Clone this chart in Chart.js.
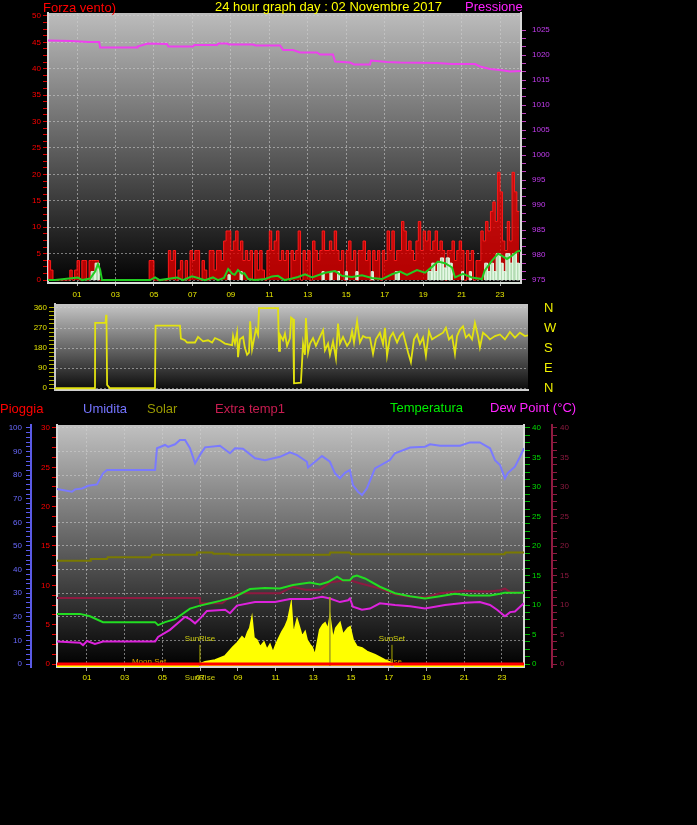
<!DOCTYPE html>
<html>
<head>
<meta charset="utf-8">
<title>24 hour graph</title>
<script src="https://cdn.jsdelivr.net/npm/chart.js"></script>
<style>
  html, body { margin: 0; padding: 0; background: #000; }
  #wrap { position: relative; width: 697px; height: 825px; background: #000; overflow: hidden;
          font-family: "Liberation Sans", Arial, sans-serif; }
  canvas { position: absolute; left: 0; }
  .lbl { position: absolute; font-size: 13px; line-height: 13px; white-space: nowrap; }
</style>
</head>
<body>
<div id="wrap">
  <canvas id="windChart" width="697" height="300" style="top:0px"></canvas>
  <canvas id="dirChart" width="697" height="108" style="top:292px"></canvas>
  <canvas id="meteoChart" width="697" height="305" style="top:395px"></canvas>

  <div class="lbl" style="left:43px;top:1px;color:#ff0000">Forza vento)</div>
  <div class="lbl" style="left:215px;top:0px;color:#ffff00">24 hour graph day : 02 Novembre 2017</div>
  <div class="lbl" style="left:465px;top:0px;color:#ff22ff">Pressione</div>

  <div class="lbl" style="left:0px;top:402px;color:#ff0000">Pioggia</div>
  <div class="lbl" style="left:83px;top:402px;color:#7474ff">Umidita</div>
  <div class="lbl" style="left:147px;top:402px;color:#999900">Solar</div>
  <div class="lbl" style="left:215px;top:402px;color:#c81c50">Extra temp1</div>
  <div class="lbl" style="left:390px;top:401px;color:#00ee00">Temperatura</div>
  <div class="lbl" style="left:490px;top:401px;color:#ff22ff">Dew Point (°C)</div>
</div>

<script>
// ---------- axis ticks ----------
const hourTicks = [1, 3, 5, 7, 9, 11, 13, 15, 17, 19, 21, 23];
const hourLabels = ['01', '03', '05', '07', '09', '11', '13', '15', '17', '19', '21', '23'];
const windTicks = [0, 5, 10, 15, 20, 25, 30, 35, 40, 45, 50];
const pressureTicks = [975, 980, 985, 990, 995, 1000, 1005, 1010, 1015, 1020, 1025];
const dirTicks = [0, 90, 180, 270, 360];
const dirLetters = ['N', 'E', 'S', 'W', 'N'];
const humTicks = [0, 10, 20, 30, 40, 50, 60, 70, 80, 90, 100];
const rainTicks = [0, 5, 10, 15, 20, 25, 30];
const tempTicks = [0, 5, 10, 15, 20, 25, 30, 35, 40];

// ---------- top chart: wind speed (km/h) every 7.5 minutes ----------
const windStart = -0.5;
const windStep = 0.125;
const windSpeed = [
  0, 3.7, 1.9, 0,
  0, 0, 0, 0, 0, 0, 1.9, 0,
  1.9, 3.7, 0, 3.7, 3.7, 0, 3.7, 3.7,
  3.7, 3.7, 0, 0, 0, 0, 0, 0,
  0, 0, 0, 0, 0, 0, 0, 0,
  0, 0, 0, 0, 0, 0, 0, 3.7,
  3.7, 0, 0, 0, 0, 0, 0, 5.6,
  3.7, 5.6, 0, 1.9, 3.7, 0, 3.7, 0,
  5.6, 3.7, 5.6, 5.6, 0, 3.7, 1.9, 0,
  5.6, 5.6, 1.9, 5.6, 5.6, 3.7, 7.4, 9.3,
  9.3, 5.6, 7.4, 9.3, 5.6, 7.4, 3.7, 5.6,
  3.7, 5.6, 0, 5.6, 1.9, 5.6, 1.9, 0,
  5.6, 9.3, 5.6, 7.4, 9.3, 3.7, 5.6, 3.7,
  5.6, 0, 5.6, 3.7, 5.6, 9.3, 0, 5.6,
  3.7, 5.6, 0, 7.4, 5.6, 3.7, 5.6, 9.3,
  5.6, 5.6, 7.4, 5.6, 9.3, 5.6, 3.7, 5.6,
  0, 5.6, 7.4, 3.7, 5.6, 0, 5.6, 5.6,
  7.4, 3.7, 5.6, 0, 5.6, 3.7, 5.6, 0,
  5.6, 3.7, 9.3, 5.6, 9.3, 3.7, 5.6, 5.6,
  11.1, 9.3, 5.6, 7.4, 5.6, 3.7, 7.4, 11.1,
  5.6, 9.3, 7.4, 9.3, 5.6, 7.4, 9.3, 5.6,
  7.4, 5.6, 0, 5.6, 5.6, 7.4, 3.7, 5.6,
  7.4, 5.6, 0, 5.6, 3.7, 5.6, 0, 3.7,
  3.7, 9.3, 7.4, 11.1, 9.3, 13, 14.8, 11.1,
  20.4, 16.7, 7.4, 5.6, 11.1, 7.4, 20.4, 16.7,
  13
];

// average wind [hour, km/h]
const windAvg = [
  [-0.51, 0], [-0.14, 0], [1.05, 0.5], [1.26, 0], [1.68, 0.3], [1.94, 1.6], [2.09, 3.0], [2.2, 2.0],
  [2.3, 0], [4.8, 0], [5.06, 0.5], [5.3, 0], [6.2, 0.5], [6.5, 0], [6.98, 0.7], [7.29, 0.4],
  [7.65, 0], [8.07, 0.5], [8.33, 0], [8.64, 0.4], [8.86, 2.1], [9.07, 1.2], [9.2, 1.0], [9.37, 1.9],
  [9.58, 1.2], [9.7, 1.3], [9.9, 0.2], [10.26, 0], [10.78, 0.2], [11.14, 0.7], [11.45, 0.8], [11.8, 0],
  [12.18, 0.3], [12.49, 0.6], [12.86, 1.1], [13.22, 0.5], [13.9, 1.4], [14.42, 1.7], [14.78, 0.8],
  [15.3, 0.6], [15.82, 0.9], [16.34, 0.4], [16.86, 0.2], [17.38, 1.1], [17.8, 1.6], [18.16, 1.0],
  [18.68, 1.9], [19.1, 1.4], [19.46, 2.5], [19.77, 3.5], [20.14, 3.2], [20.5, 2.4], [20.66, 0.5],
  [21.07, 1.2], [21.54, 0.5], [22.06, 0.2], [22.2, 1.8], [22.58, 3.7], [22.9, 5.0], [23.1, 4.6],
  [23.36, 4.0], [23.62, 4.6], [23.88, 5.4], [24.09, 5.6]
];

// gust blocks [start hour, end hour, km/h]
const gustBlocks = [
  [1.73, 1.94, 1.6], [1.94, 2.14, 3.2], [8.85, 8.95, 1.0], [9.48, 9.58, 1.6],
  [13.74, 13.84, 1.6], [14.15, 14.25, 1.6], [14.55, 14.65, 1.6], [14.95, 15.05, 1.6],
  [15.5, 15.6, 1.6], [16.3, 16.4, 1.6], [17.55, 17.75, 1.6], [19.25, 19.45, 1.6],
  [19.45, 19.6, 3.2], [19.6, 19.75, 1.6], [19.75, 19.9, 3.2], [19.9, 20.05, 4.2],
  [20.05, 20.2, 2.3], [20.2, 20.35, 4.2], [20.35, 20.5, 3.2], [21.0, 21.1, 1.6],
  [21.4, 21.5, 1.6], [22.2, 22.35, 3.2], [22.35, 22.5, 1.6], [22.5, 22.65, 3.2],
  [22.65, 22.8, 1.6], [22.8, 23.0, 5.0], [23.0, 23.15, 3.2], [23.15, 23.3, 1.6],
  [23.3, 23.5, 5.0], [23.5, 23.65, 3.2], [23.65, 23.85, 5.0], [23.85, 24.0, 3.2]
];

// pressure [hour, hPa]
const pressure = [
  [-0.51, 1022.9], [0.7, 1022.8], [1.6, 1022.6], [2.15, 1022.6], [2.2, 1021.5], [4.12, 1021.5],
  [4.15, 1021.7], [4.69, 1022.3], [5.68, 1022.2], [5.75, 1021.7], [7.03, 1021.7], [7.1, 1022.0],
  [8.28, 1022.0], [8.35, 1022.3], [8.8, 1022.3], [8.9, 1022.1], [10.15, 1022.1], [10.3, 1021.9],
  [11.56, 1021.9], [11.72, 1021.0], [12.23, 1021.0], [12.6, 1020.5], [13.48, 1020.5], [13.64, 1020.1],
  [14.31, 1020.1], [14.42, 1018.7], [15.2, 1018.5], [15.4, 1018.1], [16.24, 1018.1], [16.29, 1018.9],
  [17.12, 1018.6], [17.8, 1018.5], [19.72, 1018.4], [20.5, 1018.2], [21.7, 1018.2], [21.96, 1017.7],
  [22.48, 1017.2], [23.0, 1017.0], [23.52, 1016.7], [24.09, 1016.8]
];

// ---------- middle chart: wind direction [hour, degrees] ----------
const direction = [
  [-0.51, 0], [1.57, 0], [1.58, 293], [2.12, 293], [2.15, 329], [2.17, 293], [2.2, 15], [2.35, 0],
  [4.69, 0], [4.72, 281], [5.99, 281], [6.04, 222], [6.25, 215], [6.36, 205], [6.77, 205], [6.93, 230],
  [7.19, 210], [7.45, 215], [7.66, 205], [7.81, 225], [8.07, 215], [8.33, 200], [8.7, 193], [8.75, 235],
  [8.85, 200], [8.96, 250], [9.01, 139], [9.11, 220], [9.27, 230], [9.37, 180], [9.48, 150], [9.58, 160],
  [9.64, 300], [9.74, 175], [9.84, 220], [9.94, 265], [10.05, 240], [10.1, 359], [11.09, 359], [11.14, 168],
  [11.19, 240], [11.35, 215], [11.45, 245], [11.56, 190], [11.71, 225], [11.77, 317], [11.87, 310],
  [11.92, 22], [12.28, 25], [12.39, 200], [12.49, 150], [12.54, 315], [12.65, 160], [12.75, 200],
  [12.91, 225], [13.06, 190], [13.27, 230], [13.43, 260], [13.53, 170], [13.69, 200], [13.79, 150],
  [13.95, 210], [14.1, 135], [14.21, 290], [14.31, 200], [14.47, 230], [14.68, 190], [14.83, 210],
  [14.94, 256], [15.04, 205], [15.2, 300], [15.35, 205], [15.51, 234], [15.66, 227], [15.87, 227],
  [16.03, 154], [16.18, 219], [16.39, 249], [16.55, 198], [16.65, 271], [16.76, 146], [16.91, 227],
  [17.07, 249], [17.28, 205], [17.43, 234], [17.59, 249], [17.74, 198], [17.85, 161], [18.0, 117],
  [18.16, 219], [18.32, 241], [18.47, 198], [18.63, 227], [18.78, 146], [18.94, 256], [19.1, 219],
  [19.25, 227], [19.51, 241], [19.67, 249], [19.82, 271], [19.98, 219], [20.14, 234], [20.29, 154],
  [20.4, 234], [20.55, 263], [20.71, 278], [20.86, 227], [21.02, 241], [21.18, 219], [21.33, 293],
  [21.49, 234], [21.59, 183], [21.75, 249], [21.96, 234], [22.11, 219], [22.37, 234], [22.63, 241],
  [22.89, 219], [23.15, 252], [23.41, 227], [23.67, 249], [23.93, 234], [24.09, 237]
];

// ---------- bottom chart ----------
const temperature = [
  [-0.59, 8.5], [0.63, 8.5], [1.16, 8.1], [1.85, 7.1], [4.61, 7.1], [4.77, 6.6], [5.14, 7.1], [5.67, 7.6],
  [6.46, 9.4], [6.99, 9.9], [7.52, 10.3], [8.05, 10.7], [8.85, 11.4], [9.64, 12.7], [10.44, 12.9],
  [11.23, 12.8], [11.92, 13.4], [12.82, 13.8], [13.35, 13.5], [13.78, 13.9], [14.26, 14.8], [14.57, 14.2],
  [14.94, 14.2], [15.1, 14.8], [15.31, 15.0], [15.74, 14.5], [16.53, 13.1], [17.33, 12.0], [18.13, 11.5],
  [18.92, 11.1], [19.72, 11.5], [20.51, 11.9], [21.3, 11.6], [22.37, 11.6], [22.9, 11.9], [23.16, 12.1],
  [24.17, 12.1]
];
const dewPoint = [
  [-0.59, 3.8], [0.63, 3.6], [0.79, 3.2], [1.0, 3.9], [1.42, 3.4], [1.85, 3.8], [4.61, 3.8], [4.77, 4.6],
  [5.4, 5.8], [6.2, 8.0], [6.46, 7.6], [6.73, 6.9], [6.99, 7.7], [7.36, 9.0], [8.32, 9.2], [8.58, 8.6],
  [8.95, 9.9], [9.91, 10.5], [10.97, 10.5], [11.76, 11.0], [12.82, 11.0], [13.46, 11.4], [13.88, 11.1],
  [14.41, 10.5], [14.84, 10.8], [14.94, 11.1], [15.1, 9.7], [15.58, 9.2], [16.0, 9.4], [16.53, 10.3],
  [17.33, 10.0], [18.13, 9.8], [18.92, 9.4], [19.98, 10.0], [21.04, 10.4], [21.83, 10.5], [22.37, 10.0],
  [22.74, 9.2], [23.16, 8.1], [23.43, 8.8], [23.69, 8.9], [23.96, 9.7], [24.17, 10.3]
];
const extraTemp = [
  [-0.59, 11.2], [6.99, 11.2], [7.0, 10.3], [8.16, 10.3], [8.48, 11.1], [8.95, 12.0], [11.23, 12.0],
  [11.92, 13.1], [12.56, 12.6], [13.35, 12.6], [13.88, 13.8], [14.68, 14.2], [14.94, 14.2], [15.47, 13.7],
  [16.53, 12.8], [17.33, 11.8], [18.13, 11.4], [18.92, 11.3], [19.72, 12.0], [21.04, 12.4], [21.83, 12.3],
  [22.37, 12.3], [22.9, 12.5], [23.16, 12.8], [23.43, 12.2], [24.17, 12.0]
];
const solarLevel = [
  [-0.59, 17.5], [1.16, 17.5], [1.2, 17.8], [2.06, 17.8], [2.1, 18.1], [4.4, 18.1], [4.45, 18.5],
  [6.8, 18.5], [6.83, 18.9], [7.66, 18.9], [7.7, 18.7], [8.56, 18.7], [8.6, 18.5], [13.86, 18.5],
  [13.9, 18.9], [14.94, 18.9], [15.0, 18.6], [23.14, 18.6], [23.18, 18.9], [24.17, 18.9]
];
const humidity = [
  [-0.59, 74.2], [0.2, 73.0], [0.37, 74.0], [0.74, 74.4], [1.06, 75.5], [1.53, 76.1], [1.85, 80.8],
  [2.06, 82.2], [4.61, 82.2], [4.71, 91.4], [5.14, 92.8], [5.3, 92.0], [5.67, 93.1], [5.93, 94.9],
  [6.2, 94.9], [6.46, 91.4], [6.73, 85.0], [6.99, 88.6], [7.26, 91.8], [8.05, 92.5], [8.58, 89.3],
  [8.85, 91.4], [9.27, 91.2], [9.91, 87.2], [10.44, 86.3], [11.23, 87.8], [11.76, 89.7], [12.14, 88.5],
  [12.66, 85.7], [12.72, 83.3], [13.09, 85.7], [13.46, 88.1], [13.88, 85.7], [14.15, 80.8], [14.41, 78.7],
  [14.68, 81.0], [14.94, 82.2], [15.1, 75.8], [15.37, 73.0], [15.58, 71.6], [15.84, 74.4], [16.27, 82.9],
  [17.06, 86.4], [17.33, 89.3], [18.13, 91.7], [18.92, 92.1], [19.19, 93.1], [19.72, 92.5], [20.78, 92.5],
  [21.3, 93.9], [21.83, 93.9], [22.37, 91.4], [22.63, 86.4], [22.9, 84.3], [23.16, 78.7], [23.32, 81.0],
  [23.69, 83.6], [23.96, 87.8], [24.17, 91.4]
];
const radiation = [
  [-0.59, 0], [6.9, 0], [6.99, 8], [7.26, 17], [7.79, 25], [8.32, 42], [8.74, 80], [9.0, 100], [9.22, 123],
  [9.38, 110], [9.53, 144], [9.64, 160], [9.74, 199], [9.84, 120], [10.0, 110], [10.18, 80], [10.38, 100],
  [10.54, 68], [10.7, 90], [10.86, 55], [11.02, 90], [11.13, 110], [11.34, 144], [11.5, 165], [11.66, 195],
  [11.82, 258], [11.92, 140], [12.03, 160], [12.14, 195], [12.3, 153], [12.4, 123], [12.56, 144],
  [12.66, 110], [12.82, 90], [12.93, 80], [13.09, 42], [13.25, 110], [13.35, 153], [13.51, 174],
  [13.62, 182], [13.78, 153], [13.88, 203], [14.04, 110], [14.2, 160], [14.41, 182], [14.57, 131],
  [14.68, 144], [14.84, 160], [14.94, 165], [15.1, 110], [15.31, 82], [15.58, 76], [15.84, 61],
  [16.27, 47], [16.8, 25], [17.17, 13], [17.33, 0], [24.17, 0]
];
const rain = [[-0.59, 0], [24.17, 0]];

const sunRise = 6.99;
const sunSet = 17.17;
const sunMarker = 90;
const solarPeak = [13.88, 292];
const moonSet = 4.29;
const moonRise = 16.75;

// ---------- helpers ----------
const FONT = '"Liberation Sans", Arial, sans-serif';
const GRID = 'rgba(210,210,210,0.55)';

function minorTicks(majors, sub, labels) {
  const out = [];
  majors.forEach((m, i) => {
    out.push({ value: m, lbl: labels ? labels[i] : String(m) });
    if (i < majors.length - 1) {
      const d = (majors[i + 1] - m) / sub;
      for (let k = 1; k < sub; k++) out.push({ value: m + d * k, lbl: '' });
    }
  });
  return out;
}
const pts = pairs => pairs.map(p => ({ x: p[0], y: p[1] }));
const setTicks = list => scale => { scale.ticks = list.map(t => ({ value: t.value, lbl: t.lbl })); };
const tickLabel = (v, i, t) => t[i].lbl;
const majorGrid = ctx => (ctx.tick && ctx.tick.lbl) ? GRID : 'rgba(0,0,0,0)';
const hourTickList = hourTicks.map((v, i) => ({ value: v, lbl: hourLabels[i] }));

const plotBackground = {
  id: 'plotBackground',
  beforeDraw(chart, args, opts) {
    const { ctx, chartArea: a } = chart;
    const g = ctx.createLinearGradient(0, a.top, 0, a.bottom);
    g.addColorStop(0, opts.top);
    g.addColorStop(1, opts.bottom);
    ctx.save();
    ctx.fillStyle = g;
    ctx.fillRect(a.left, a.top, a.right - a.left, a.bottom - a.top);
    ctx.restore();
  }
};

const baseOptions = {
  responsive: false,
  animation: false,
  events: [],
  elements: { point: { radius: 0 }, line: { tension: 0 } }
};

// ---------- top chart ----------
const windPoints = windSpeed.map((v, i) => ({ x: windStart + i * windStep, y: v }));
const gustPoints = [];
gustBlocks.forEach(([s, e, v]) => {
  gustPoints.push({ x: s, y: 0 }, { x: s, y: v }, { x: e, y: v }, { x: e, y: 0 }, { x: e, y: null });
});

new Chart(document.getElementById('windChart'), {
  type: 'line',
  data: {
    datasets: [
      { label: 'Pressione', data: pts(pressure), yAxisID: 'yP', borderColor: '#ee40ee', borderWidth: 2 },
      { label: 'Vento medio', data: pts(windAvg), yAxisID: 'y', borderColor: '#22cc22', borderWidth: 2 },
      { label: 'Raffica', data: gustPoints, yAxisID: 'y', borderColor: '#e4f8e4', borderWidth: 1,
        backgroundColor: '#b4dcb4', fill: 'origin', spanGaps: false },
      { label: 'Forza vento', data: windPoints, yAxisID: 'y', stepped: 'after', borderColor: '#ff1a1a',
        borderWidth: 1, backgroundColor: 'rgba(225,0,0,0.8)', fill: 'origin' }
    ]
  },
  options: {
    ...baseOptions,
    layout: { padding: { top: 13 } },
    plugins: { legend: { display: false }, tooltip: { enabled: false },
               plotBackground: { top: '#bcbcbc', bottom: '#020202' } },
    scales: {
      x: {
        type: 'linear', min: -0.51, max: 24.09,
        afterBuildTicks: setTicks(hourTickList),
        afterFit: s => { s.height = 17; },
        ticks: { autoSkip: false, maxRotation: 0, color: '#e8e800', font: { size: 8, family: FONT },
                 padding: 4, callback: tickLabel },
        grid: { color: GRID, tickColor: '#b0b0b0', tickLength: 3 },
        border: { color: '#d8e0d8', width: 2, dash: [2, 2] }
      },
      y: {
        position: 'left', min: -0.55, max: 50.55,
        afterBuildTicks: setTicks(minorTicks(windTicks, 4)),
        afterFit: s => { s.width = 48; },
        ticks: { autoSkip: false, color: '#ff0000', font: { size: 8, family: FONT }, padding: 2, callback: tickLabel },
        grid: { color: majorGrid, tickColor: '#dd0000', tickLength: 5 },
        border: { color: '#d8d8d8', width: 2, dash: [2, 2] }
      },
      yP: {
        position: 'right', min: 974.4, max: 1028.4,
        afterBuildTicks: setTicks(minorTicks(pressureTicks, 3)),
        afterFit: s => { s.width = 176; },
        ticks: { autoSkip: false, color: '#c43cf0', font: { size: 8, family: FONT }, padding: 6, callback: tickLabel },
        grid: { drawOnChartArea: false, tickColor: '#c040c0', tickLength: 5 },
        border: { color: '#d8d8d8', width: 2 }
      }
    }
  },
  plugins: [plotBackground]
});

// ---------- middle chart ----------
new Chart(document.getElementById('dirChart'), {
  type: 'line',
  data: {
    datasets: [
      { label: 'Direzione', data: pts(direction), yAxisID: 'y', borderColor: '#e2e210', borderWidth: 1.8 }
    ]
  },
  options: {
    ...baseOptions,
    layout: { padding: { top: 12 } },
    plugins: { legend: { display: false }, tooltip: { enabled: false },
               plotBackground: { top: '#c6c6c6', bottom: '#0a0a0a' } },
    scales: {
      x: {
        type: 'linear', min: -0.51, max: 24.09,
        afterFit: s => { s.height = 8; },
        ticks: { display: false },
        grid: { display: false },
        border: { color: '#d0d0d0', width: 2 }
      },
      y: {
        position: 'left', min: -8.8, max: 377.6,
        afterBuildTicks: setTicks(minorTicks(dirTicks, 5)),
        afterFit: s => { s.width = 55; },
        ticks: { autoSkip: false, color: '#e0e000', font: { size: 8, family: FONT }, padding: 2, callback: tickLabel },
        grid: { color: majorGrid, tickColor: '#b0b000', tickLength: 6 },
        border: { color: '#c8c8c8', width: 2, dash: [2, 2] }
      },
      yN: {
        position: 'right', min: -8.8, max: 377.6,
        afterBuildTicks: setTicks(minorTicks(dirTicks, 1, dirLetters)),
        afterFit: s => { s.width = 169; },
        ticks: { autoSkip: false, color: '#f0f000', font: { size: 13, family: FONT }, padding: 2, callback: tickLabel },
        grid: { drawOnChartArea: false, tickColor: 'rgba(0,0,0,0)', tickLength: 14 },
        border: { display: false }
      }
    }
  },
  plugins: [plotBackground]
});

// ---------- bottom chart ----------
const sunMoonText = {
  id: 'sunMoonText',
  beforeDatasetsDraw(chart) {
    const { ctx, scales: { x, yR } } = chart;
    const y0 = yR.getPixelForValue(0) - 2;
    ctx.save();
    ctx.font = '8px ' + FONT;
    ctx.fillStyle = '#dca400';
    ctx.textAlign = 'center';
    ctx.textBaseline = 'middle';
    ctx.fillText('Moon Set', x.getPixelForValue(moonSet), y0);
    ctx.fillText('MoonRise', x.getPixelForValue(moonRise), y0);
    ctx.restore();
  },
  afterDatasetsDraw(chart) {
    const { ctx, scales: { x, yS }, chartArea } = chart;
    const yTop = yS.getPixelForValue(sunMarker) - 6;
    ctx.save();
    ctx.font = '8px ' + FONT;
    ctx.fillStyle = '#cccc10';
    ctx.textAlign = 'center';
    ctx.textBaseline = 'middle';
    ctx.fillText('SunRise', x.getPixelForValue(sunRise), yTop);
    ctx.fillText('SunSet', x.getPixelForValue(sunSet), yTop);
    ctx.fillText('SunRise', x.getPixelForValue(sunRise), chartArea.bottom + 11);
    ctx.restore();
  }
};

new Chart(document.getElementById('meteoChart'), {
  type: 'line',
  data: {
    datasets: [
      { label: 'Pioggia', data: pts(rain), yAxisID: 'yR', borderColor: '#ff0000', borderWidth: 3 },
      { label: 'SunRise', data: pts([[sunRise, 0], [sunRise, sunMarker]]), yAxisID: 'yS', borderColor: '#a8a800', borderWidth: 1 },
      { label: 'SunSet', data: pts([[sunSet, 0], [sunSet, sunMarker]]), yAxisID: 'yS', borderColor: '#a8a800', borderWidth: 1 },
      { label: 'Solar max', data: pts([[solarPeak[0], 0], solarPeak]), yAxisID: 'yS', borderColor: '#a0a020', borderWidth: 1.5 },
      { label: 'Temperatura', data: pts(temperature), yAxisID: 'yT', borderColor: '#22dd22', borderWidth: 2 },
      { label: 'Dew Point', data: pts(dewPoint), yAxisID: 'yT', borderColor: '#dd22dd', borderWidth: 2 },
      { label: 'Extra temp1', data: pts(extraTemp), yAxisID: 'yT', borderColor: '#8e1a40', borderWidth: 2 },
      { label: 'Umidita', data: pts(humidity), yAxisID: 'yH', borderColor: '#7a7aff', borderWidth: 2 },
      { label: 'Solar', data: pts(solarLevel), yAxisID: 'yT', borderColor: '#7a7a00', borderWidth: 2 },
      { label: 'Radiazione', data: pts(radiation), yAxisID: 'yS', borderColor: '#ffff00', borderWidth: 2,
        backgroundColor: '#ffff00', fill: 'origin' }
    ]
  },
  options: {
    ...baseOptions,
    layout: { padding: { top: 30 } },
    plugins: { legend: { display: false }, tooltip: { enabled: false },
               plotBackground: { top: '#c0c0c0', bottom: '#000000' } },
    scales: {
      x: {
        type: 'linear', min: -0.59, max: 24.17,
        afterBuildTicks: setTicks(hourTickList),
        afterFit: s => { s.height = 33; },
        ticks: { autoSkip: false, maxRotation: 0, color: '#e8e800', font: { size: 8, family: FONT },
                 padding: 2, callback: tickLabel },
        grid: { color: GRID, tickColor: '#b0b0b0', tickLength: 4 },
        border: { color: '#d8d8d8', width: 2, dash: [2, 2] }
      },
      yH: {
        position: 'left', weight: 1, min: -1.27, max: 101.27,
        afterBuildTicks: setTicks(minorTicks(humTicks, 5)),
        afterFit: s => { s.width = 31; },
        ticks: { autoSkip: false, color: '#6a6aff', font: { size: 8, family: FONT }, padding: 4, callback: tickLabel },
        grid: { color: majorGrid, tickColor: '#5a5aee', tickLength: 5 },
        border: { color: '#5a5ae6', width: 2, dash: [2, 2] }
      },
      yR: {
        position: 'left', weight: 0, min: -0.38, max: 30.38,
        afterBuildTicks: setTicks(minorTicks(rainTicks, 4)),
        afterFit: s => { s.width = 26; },
        ticks: { autoSkip: false, color: '#ff0000', font: { size: 8, family: FONT }, padding: 2, callback: tickLabel },
        grid: { drawOnChartArea: false, tickColor: '#ee0000', tickLength: 5 },
        border: { color: '#d8d8d8', width: 2 }
      },
      yT: {
        position: 'right', weight: 0, min: -0.5, max: 40.5,
        afterBuildTicks: setTicks(minorTicks(tempTicks, 4)),
        afterFit: s => { s.width = 28; },
        ticks: { autoSkip: false, color: '#00dd00', font: { size: 8, family: FONT }, padding: 2, callback: tickLabel },
        grid: { drawOnChartArea: false, tickColor: '#00b000', tickLength: 6 },
        border: { color: '#d8d8d8', width: 2 }
      },
      yD: {
        position: 'right', weight: 1, min: -0.5, max: 40.5,
        afterBuildTicks: setTicks(minorTicks(tempTicks, 4)),
        afterFit: s => { s.width = 145; },
        ticks: { autoSkip: false, color: '#8e1a40', font: { size: 8, family: FONT }, padding: 3, callback: tickLabel },
        grid: { drawOnChartArea: false, tickColor: '#8e1a40', tickLength: 5 },
        border: { color: '#8e1a40', width: 2 }
      },
      yS: { display: false, min: -4, max: 1021 }
    }
  },
  plugins: [plotBackground, sunMoonText]
});
</script>
</body>
</html>
